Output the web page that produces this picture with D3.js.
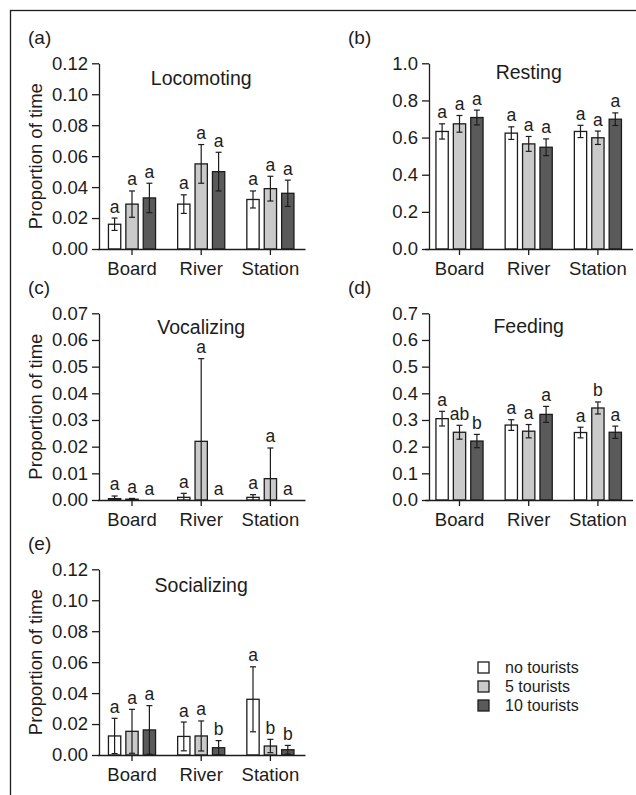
<!DOCTYPE html>
<html>
<head>
<meta charset="utf-8">
<script src="https://cdn.jsdelivr.net/npm/d3@7"></script>
<style>
  body { margin: 0; background: #fff; }
  svg { display: block; font-family: "Liberation Sans", Arial, sans-serif; }
</style>
</head>
<body>
<svg id="chart" width="636" height="795"></svg>
<script>
// Categories
var sites = ["Board", "River", "Station"];
var groups = ["no tourists", "5 tourists", "10 tourists"];
var groupFills = ["#ffffff", "#cacaca", "#5a5a5a"];

// Means (rows = site, cols = tourist group) and standard errors
var locoMean = [[0.016, 0.029, 0.033], [0.029, 0.055, 0.050], [0.032, 0.039, 0.036]];
var locoSE = [[0.004, 0.0085, 0.0095], [0.006, 0.0125, 0.0125], [0.0055, 0.008, 0.0085]];
var locoLetters = [["a", "a", "a"], ["a", "a", "a"], ["a", "a", "a"]];

var restMean = [[0.633, 0.674, 0.708], [0.624, 0.566, 0.548], [0.633, 0.599, 0.699]];
var restSE = [[0.041, 0.045, 0.040], [0.034, 0.040, 0.045], [0.033, 0.036, 0.034]];
var restLetters = [["a", "a", "a"], ["a", "a", "a"], ["a", "a", "a"]];

var vocalMean = [[0.0005, 0.0003, 0], [0.001, 0.022, 0], [0.001, 0.008, 0]];
var vocalSE = [[0.001, 0.0003, 0], [0.0015, 0.031, 0], [0.001, 0.0115, 0]];
var vocalLetters = [["a", "a", "a"], ["a", "a", "a"], ["a", "a", "a"]];

var feedMean = [[0.305, 0.254, 0.221], [0.281, 0.258, 0.321], [0.253, 0.345, 0.254]];
var feedSE = [[0.0275, 0.026, 0.025], [0.020, 0.025, 0.030], [0.020, 0.0225, 0.023]];
var feedLetters = [["a", "ab", "b"], ["a", "a", "a"], ["a", "b", "a"]];

var socialMean = [[0.0123, 0.0153, 0.0162], [0.012, 0.0123, 0.0047], [0.036, 0.0058, 0.0034]];
var socialSE = [[0.0114, 0.0142, 0.0157], [0.0093, 0.0097, 0.0046], [0.021, 0.0043, 0.0028]];
var socialLetters = [["a", "a", "a"], ["a", "a", "b"], ["a", "b", "b"]];

// Y tick values
var ticks012 = [0, 0.02, 0.04, 0.06, 0.08, 0.10, 0.12];
var ticks10 = [0, 0.2, 0.4, 0.6, 0.8, 1.0];
var ticks007 = [0, 0.01, 0.02, 0.03, 0.04, 0.05, 0.06, 0.07];
var ticks07 = [0, 0.1, 0.2, 0.3, 0.4, 0.5, 0.6, 0.7];

var panels = [
    { tag: "(a)", title: "Locomoting", mean: locoMean, se: locoSE, letters: locoLetters,
      ticks: ticks012, fmt: ".2f", col: 0, top: 63.3, bottom: 249, titleDy: 21.7, ylabel: true },
    { tag: "(b)", title: "Resting", mean: restMean, se: restSE, letters: restLetters,
      ticks: ticks10, fmt: ".1f", col: 1, top: 63.3, bottom: 249, titleDy: 16, ylabel: false },
    { tag: "(c)", title: "Vocalizing", mean: vocalMean, se: vocalSE, letters: vocalLetters,
      ticks: ticks007, fmt: ".2f", col: 0, top: 313.3, bottom: 500, titleDy: 20.5, ylabel: true },
    { tag: "(d)", title: "Feeding", mean: feedMean, se: feedSE, letters: feedLetters,
      ticks: ticks07, fmt: ".1f", col: 1, top: 313.3, bottom: 500, titleDy: 20, ylabel: false },
    { tag: "(e)", title: "Socializing", mean: socialMean, se: socialSE, letters: socialLetters,
      ticks: ticks012, fmt: ".2f", col: 0, top: 569.3, bottom: 755, titleDy: 22.4, ylabel: true }
];

// column geometry
var cols = [
    { axisX: 99, gx0: 97.4, tagX: 28 },
    { axisX: 429, gx0: 424.9, tagX: 348 }
];

var ink = "#1c1c1c";
var svg = d3.select("#chart");

// outer frame (only top and left edges fall inside the picture)
svg.append("rect")
    .attr("x", 10.5).attr("y", 10.5)
    .attr("width", 800).attr("height", 900)
    .attr("fill", "none").attr("stroke", ink).attr("stroke-width", 1.3);

var inner = d3.scaleBand().domain(groups).range([-26.1, 26.1])
    .paddingInner(0.293).paddingOuter(0.1465);

panels.forEach(function (p) {
    var c = cols[p.col];
    var x = d3.scaleBand().domain(sites).range([c.gx0, c.gx0 + 207.6]);
    var y = d3.scaleLinear()
        .domain([0, p.ticks[p.ticks.length - 1]])
        .range([p.bottom, p.top]);
    var g = svg.append("g");

    // bars
    sites.forEach(function (s, i) {
        var cx = x(s) + x.bandwidth() / 2;
        groups.forEach(function (grp, j) {
            var m = p.mean[i][j], e = p.se[i][j];
            var bx = cx + inner(grp);
            var bw = inner.bandwidth();
            if (m > 0) {
                g.append("rect")
                    .attr("x", bx).attr("y", y(m))
                    .attr("width", bw).attr("height", y(0) - y(m))
                    .attr("fill", groupFills[j])
                    .attr("stroke", ink).attr("stroke-width", 1.3);
            }
            var mx = bx + bw / 2;
            if (e > 0) {
                var lo = Math.max(0, m - e), hi = m + e;
                g.append("line")
                    .attr("x1", mx).attr("x2", mx)
                    .attr("y1", y(lo)).attr("y2", y(hi))
                    .attr("stroke", ink).attr("stroke-width", 1.2);
                g.append("line")
                    .attr("x1", mx - 3).attr("x2", mx + 3)
                    .attr("y1", y(hi)).attr("y2", y(hi))
                    .attr("stroke", ink).attr("stroke-width", 1.2);
                if (lo > 0) {
                    g.append("line")
                        .attr("x1", mx - 3).attr("x2", mx + 3)
                        .attr("y1", y(lo)).attr("y2", y(lo))
                        .attr("stroke", ink).attr("stroke-width", 1.2);
                }
            }
            g.append("text")
                .attr("x", mx)
                .attr("y", y(m + e) - 5.5)
                .attr("text-anchor", "middle")
                .attr("font-size", 17.5)
                .attr("fill", ink)
                .text(p.letters[i][j]);
        });
    });

    // axes
    var yAxis = d3.axisLeft(y).tickValues(p.ticks).tickFormat(d3.format(p.fmt))
        .tickSize(7).tickPadding(4).tickSizeOuter(0);
    var ya = g.append("g")
        .attr("transform", "translate(" + c.axisX + ",0)")
        .call(yAxis);
    var xAxis = d3.axisBottom(x).tickSize(6).tickPadding(7).tickSizeOuter(0);
    var xa = g.append("g")
        .attr("transform", "translate(0," + p.bottom + ")")
        .call(xAxis);
    [ya, xa].forEach(function (a) {
        a.selectAll("path, line").attr("stroke", ink).attr("stroke-width", 1.3);
        a.selectAll("text").attr("font-size", 18.5).attr("fill", ink)
            .attr("font-family", "Liberation Sans, Arial, sans-serif");
    });

    // title, panel tag, y label
    g.append("text")
        .attr("x", x(sites[1]) + x.bandwidth() / 2)
        .attr("y", p.top + p.titleDy)
        .attr("text-anchor", "middle")
        .attr("font-size", 19.5).attr("fill", ink)
        .text(p.title);
    g.append("text")
        .attr("x", c.tagX)
        .attr("y", p.top - 19.5)
        .attr("font-size", 19).attr("fill", ink)
        .text(p.tag);
    if (p.ylabel) {
        g.append("text")
            .attr("transform", "translate(42," + (p.top + p.bottom) / 2 + ") rotate(-90)")
            .attr("text-anchor", "middle")
            .attr("font-size", 18.5).attr("fill", ink)
            .text("Proportion of time");
    }
});

// legend
var legend = svg.append("g").attr("transform", "translate(478,662)");
groups.forEach(function (grp, j) {
    legend.append("rect")
        .attr("x", 0).attr("y", j * 19)
        .attr("width", 11).attr("height", 11)
        .attr("fill", groupFills[j])
        .attr("stroke", ink).attr("stroke-width", 1.3);
    legend.append("text")
        .attr("x", 27).attr("y", j * 19 + 10.5)
        .attr("font-size", 16).attr("fill", ink)
        .text(grp);
});
</script>
</body>
</html>
